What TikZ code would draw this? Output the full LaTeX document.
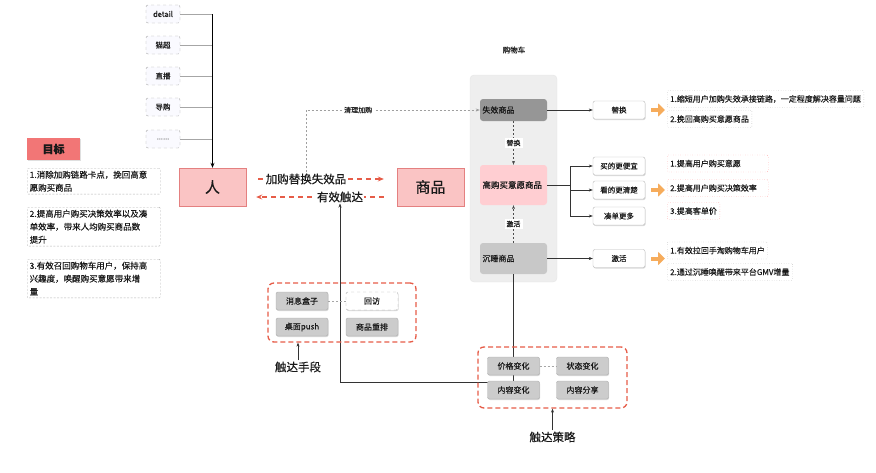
\documentclass[tikz,border=0pt]{standalone}
\usepackage{fontspec}
\setmainfont{Noto Sans CJK SC}[FakeBold=0.3]
\usetikzlibrary{arrows.meta,positioning,shadows}

\definecolor{txtgray}{RGB}{25,25,25}
\definecolor{pinkbox}{RGB}{250,196,196}
\definecolor{pinkline}{RGB}{228,128,128}
\definecolor{goalred}{RGB}{242,118,118}
\definecolor{highpink}{RGB}{255,206,210}
\definecolor{expgray}{RGB}{150,150,150}
\definecolor{sleepgray}{RGB}{200,200,200}
\definecolor{cartbg}{RGB}{238,238,238}
\definecolor{btngray}{RGB}{204,204,204}
\definecolor{grpred}{RGB}{230,92,72}
\definecolor{orarrow}{RGB}{246,172,92}

\newcommand\setfs[2]{\fontsize{#1}{#2}\selectfont}

\begin{document}
\begin{tikzpicture}[x=1pt, y=-1pt,
  font=\setfs{8}{10}, text=txtgray,
  chan/.style={draw=gray!70, dashed, rounded corners=2pt, fill=blue!2, minimum width=34pt, minimum height=18pt, font=\setfs{7.5}{9}},
  bigbox/.style={draw=pinkline, fill=pinkbox, minimum width=67pt, minimum height=38pt, font=\setfs{15}{18}, drop shadow={opacity=0.2, shadow xshift=0.5pt, shadow yshift=-1pt}},
  lbl/.style={fill=white, inner sep=1pt, font=\setfs{11.5}{13}},
  biglbl/.style={inner sep=1pt, font=\setfs{11.5}{13}},
  item/.style={rounded corners=3pt, text width=62pt, inner sep=2.5pt, align=left},
  tag/.style={fill=white, inner sep=2pt, font=\setfs{7}{8}},
  btn/.style={draw=gray!55, fill=white, rounded corners=2pt, minimum width=52pt, minimum height=18pt, font=\setfs{7.5}{9}, drop shadow={opacity=0.3, shadow xshift=0.6pt, shadow yshift=-1pt}},
  gnote/.style={draw=gray!90, dotted, rounded corners=1pt, inner sep=3pt, minimum height=17pt, anchor=west, align=left, font=\setfs{8}{10}},
  rnote/.style={gnote, draw=red!55},
  goal/.style={fill=goalred, minimum width=53pt, minimum height=22pt, font=\setfs{11}{13}\bfseries, drop shadow={opacity=0.25, shadow xshift=0.6pt, shadow yshift=-1.2pt}},
  tgt/.style={draw=gray!60, dash pattern=on 2pt off 1.5pt, rounded corners=1pt, text width=128pt, inner sep=2.5pt, align=left, anchor=north west, font=\setfs{8.5}{13}},
  grp/.style={draw=grpred, line width=1.3pt, dash pattern=on 5pt off 3pt, rounded corners=6pt},
  gbtn/.style={draw=gray!65, fill=btngray, rounded corners=2pt, minimum width=52pt, minimum height=18pt, font=\setfs{8}{10}, drop shadow={opacity=0.3, shadow xshift=0.6pt, shadow yshift=-1pt}},
  arr/.style={-{Stealth[length=4pt, width=3pt]}, draw=black!80, line width=0.5pt},
  redarr/.style={-{Stealth[length=6pt, width=5pt]}, draw=grpred, line width=1.1pt, dash pattern=on 5pt off 4pt},
  dashln/.style={draw=black!70, dash pattern=on 2pt off 2pt, line width=0.5pt},
  orarr/.style={-{Triangle[length=7pt, width=13pt]}, draw=orarrow, line width=4pt, shorten <=6pt, shorten >=2pt}
]
\useasboundingbox (0,0) rectangle (876,472);

% channels
\node[chan] (chDetail) at (163,14) {detail};
\node[chan] (chCat) at (163,45) {猫超};
\node[chan] (chLive) at (163,76) {直播};
\node[chan] (chGuide) at (163,107) {导购};
\node[chan, text=gray] (chMore) at (163,139) {......};

% person / goods
\node[bigbox] (ren) at (212.5,187) {人};
\node[bigbox] (goods) at (430.5,187) {商品};

\foreach \c in {chDetail,chCat,chLive,chGuide,chMore} {
  \draw[gray!70, line width=0.6pt] (\c.east) -- (\c.east -| ren.north);
}
\draw[-{Stealth[length=5pt, width=4pt]}, line width=0.9pt] (chDetail.east -| ren.north) -- (ren.north);

% cart
\node[fill=cartbg, draw=gray!20, rounded corners=4pt, minimum width=87pt, minimum height=207pt] (cart) at (513.5,178.5) {};
\node[font=\setfs{7.5}{9}] (cartTtl) at (514,50) {购物车};
\node[item, fill=expgray, minimum height=22pt] (expired) at (513.5,110) {失效商品};
\node[item, fill=highpink, minimum height=40pt, font=\setfs{8.5}{10}] (high) at (513.5,185) {高购买意愿商品};
\node[item, fill=sleepgray, minimum height=31pt] (sleep) at (513.5,258.5) {沉睡商品};

\draw[dashln, -{Stealth[length=4pt, width=3pt]}] (expired) -- node[tag] {替换} (high);
\draw[dashln, -{Stealth[length=4pt, width=3pt]}] (sleep) -- node[tag] {激活} (high);

% person <-> goods
\draw[redarr, shorten <=12pt, shorten >=13pt] (ren.east |- 0,179) -- (goods.west |- 0,179);
\draw[redarr, shorten <=13pt, shorten >=10pt] (goods.west |- 0,197) -- (ren.east |- 0,197);
\node[lbl] (addLbl) at (306,179) {加购替换失效品};
\node[lbl] (reachLbl) at (340,197) {有效触达};
\draw[draw=gray!75, dash pattern=on 2pt off 2pt, line width=0.6pt, -{Stealth[length=4pt, width=3pt]}, draw=gray!75]
  (addLbl.north) |- node[pos=0.65, fill=white, inner sep=2pt, font=\setfs{7}{8}, text=txtgray] {清理加购} (expired.west);

% right side buttons
\node[btn] (rep) at (619,110) {替换};
\node[btn] (cheap) at (619,166) {买的更便宜};
\node[btn] (clear) at (619,190) {看的更清楚};
\node[btn] (more) at (619,216) {凑单更多};
\node[btn] (act) at (619,258.5) {激活};

\draw[arr] (expired.east) -- (rep.west);
\coordinate (br) at (570,185);
\draw[black!80, line width=0.5pt] (high.east) -- (br);
\draw[black!80, line width=0.5pt] (br |- cheap) -- (br |- more);
\foreach \b in {cheap,clear,more} {
  \draw[arr] (br |- \b) -- (\b.west);
}
\draw[arr] (sleep.east) -- (act.west);

% notes
\node[gnote] (repN1) at (667,99) {1.缩短用户加购失效承接链路，一定程度解决容量问题};
\node[gnote] (repN2) at (667,119) {2.挽回高购买意愿商品};
\node[rnote, text width=95pt] (highN1) at (667,163.5) {1.提高用户购买意愿};
\node[rnote, text width=95pt] (highN2) at (667,188) {2.提高用户购买决策效率};
\node[rnote] (highN3) at (667,211) {3.提高客单价};
\node[gnote, text width=94pt] (actN1) at (667,250.5) {1.有效拉回手淘购物车用户};
\node[gnote] (actN2) at (667,272) {2.通过沉睡唤醒带来平台GMV增量};

\draw[orarr] (rep.east) -- (rep.east -| repN1.west);
\draw[orarr] (clear.east) -- (clear.east -| highN2.west);
\draw[orarr] (act.east) -- (act.east -| actN1.west);

% goals
\node[goal] (goal) at (53.5,149) {目标};
\node[tgt] (tgt1) at (27,168) {1.消除加购链路卡点，挽回高意\\愿购买商品};
\node[tgt] (tgt2) at (27,207) {2.提高用户购买决策效率以及凑\\单效率，带来人均购买商品数\\提升};
\node[tgt] (tgt3) at (27,259) {3.有效召回购物车用户，保持高\\兴趣度，唤醒购买意愿带来增\\量};

% strategy
\coordinate (jn) at (513.5,382);
\draw[black!80, line width=0.5pt] (sleep.south) -- (jn);
\draw[arr] (jn) -| (reachLbl.south);

\node[grp, minimum width=149pt, minimum height=61pt] (stratGrp) at (552.5,377.5) {};
\node[gbtn] (priceChg) at (513.5,366) {价格变化};
\node[gbtn] (stateChg) at (582.5,366) {状态变化};
\node[gbtn] (contentChg) at (513.5,390) {内容变化};
\node[gbtn] (contentShare) at (582.5,390) {内容分享};
\draw[dashln, draw=gray!70] (priceChg) -- (stateChg);
\node[biglbl] (stratLbl) at (552.5,437) {触达策略};
\draw[arr] (stratLbl.north) -- (stratGrp.south);

% means
\node[grp, minimum width=148pt, minimum height=59pt] (meansGrp) at (342,312.5) {};
\node[gbtn] (msgBox) at (302,301) {消息盒子};
\node[gbtn, fill=white, dashed, drop shadow={opacity=0}] (revisit) at (372,301) {回访};
\node[gbtn] (deskPush) at (302,327) {桌面push};
\node[gbtn] (rerank) at (372,327) {商品重排};
\draw[dashln, draw=gray!70] (msgBox) -- (revisit);
\node[biglbl] (meansLbl) at (298,367) {触达手段};
\draw[arr] (meansLbl.north) -- (meansLbl.north |- meansGrp.south);

\end{tikzpicture}
\end{document}
